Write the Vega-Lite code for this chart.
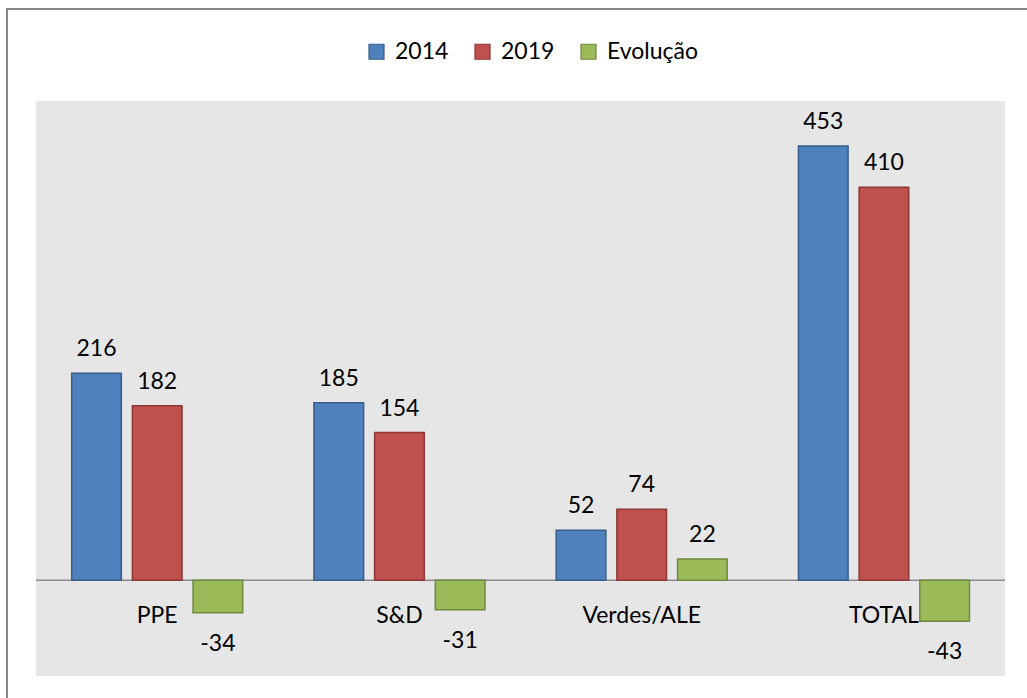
{
  "$schema": "https://vega.github.io/schema/vega-lite/v6.json",
  "width": 1023,
  "height": 692,
  "autosize": {"type": "none"},
  "padding": {"left": 7, "top": 9, "right": -3, "bottom": -3},
  "background": "white",
  "view": {"stroke": "#878787", "strokeWidth": 2, "fill": "white"},
  "config": {
    "view": {"stroke": "#878787", "strokeWidth": 2, "fill": "white"},
    "font": "Lato",
    "text": {"font": "Lato", "fontSize": 23, "color": "#000000"}
  },
  "datasets": {
    "bars": [
      {"grupo": "PPE", "serie": "2014", "valor": 216},
      {"grupo": "PPE", "serie": "2019", "valor": 182},
      {"grupo": "PPE", "serie": "Evolução", "valor": -34},
      {"grupo": "S&D", "serie": "2014", "valor": 185},
      {"grupo": "S&D", "serie": "2019", "valor": 154},
      {"grupo": "S&D", "serie": "Evolução", "valor": -31},
      {"grupo": "Verdes/ALE", "serie": "2014", "valor": 52},
      {"grupo": "Verdes/ALE", "serie": "2019", "valor": 74},
      {"grupo": "Verdes/ALE", "serie": "Evolução", "valor": 22},
      {"grupo": "TOTAL", "serie": "2014", "valor": 453},
      {"grupo": "TOTAL", "serie": "2019", "valor": 410},
      {"grupo": "TOTAL", "serie": "Evolução", "valor": -43}
    ],
    "cats": [
      {"grupo": "PPE"},
      {"grupo": "S&D"},
      {"grupo": "Verdes/ALE"},
      {"grupo": "TOTAL"}
    ],
    "frame": [{"inicio": "PPE", "fim": "TOTAL", "topo": 500, "base": -100}]
  },
  "layer": [
    {
      "data": {"name": "frame"},
      "mark": {"type": "rect", "fill": "#E6E6E6"},
      "encoding": {
        "x": {
          "field": "inicio", "type": "nominal", "bandPosition": -0.2088,
          "scale": {"domain": ["PPE", "S&D", "Verdes/ALE", "TOTAL"], "paddingInner": 0.2941, "paddingOuter": 0.2585, "align": 0.5166},
          "axis": null
        },
        "x2": {"field": "fim", "bandPosition": 1.2079},
        "y": {
          "field": "topo", "type": "quantitative",
          "scale": {"domain": [-126.09, 596.0], "nice": false},
          "axis": null
        },
        "y2": {"field": "base"}
      }
    },
    {
      "data": {"name": "frame"},
      "mark": {"type": "rule", "color": "#8A8A8A", "strokeWidth": 1.5},
      "encoding": {
        "x": {"field": "inicio", "type": "nominal", "bandPosition": -0.2088, "axis": null},
        "x2": {"field": "fim", "bandPosition": 1.2079},
        "y": {"datum": 0, "type": "quantitative", "axis": null}
      }
    },
    {
      "data": {"name": "bars"},
      "mark": {"type": "bar", "strokeWidth": 1.5},
      "encoding": {
        "x": {"field": "grupo", "type": "nominal", "sort": null, "axis": null},
        "xOffset": {"field": "serie", "type": "nominal", "sort": ["2014", "2019", "Evolução"], "scale": {"paddingInner": 0.182, "paddingOuter": 0}},
        "y": {"field": "valor", "type": "quantitative", "axis": null},
        "y2": {"datum": 0},
        "fill": {
          "field": "serie", "type": "nominal",
          "scale": {"domain": ["2014", "2019", "Evolução"], "range": ["#4F81BD", "#C0504D", "#9BBB59"]},
          "legend": {"orient": "none", "legendX": 358, "legendY": 31, "direction": "horizontal", "title": null, "symbolType": "square", "symbolSize": 225, "symbolStrokeWidth": 1.2, "labelFont": "Lato", "labelFontSize": 23, "labelColor": "#000000", "labelOffset": 7, "columnPadding": 22, "padding": 0}
        },
        "stroke": {
          "field": "serie", "type": "nominal",
          "scale": {"domain": ["2014", "2019", "Evolução"], "range": ["#385D8A", "#8C3836", "#71893F"]},
          "legend": {"orient": "none", "legendX": 358, "legendY": 31, "direction": "horizontal", "title": null, "symbolType": "square", "symbolSize": 225, "symbolStrokeWidth": 1.2, "labelFont": "Lato", "labelFontSize": 23, "labelColor": "#000000", "labelOffset": 7, "columnPadding": 22, "padding": 0}
        }
      }
    },
    {
      "data": {"name": "bars"},
      "transform": [{"filter": "datum.valor >= 0"}],
      "mark": {"type": "text", "baseline": "alphabetic", "dy": -17},
      "encoding": {
        "x": {"field": "grupo", "type": "nominal", "sort": null, "axis": null},
        "xOffset": {"field": "serie", "type": "nominal", "sort": ["2014", "2019", "Evolução"]},
        "y": {"field": "valor", "type": "quantitative", "axis": null},
        "text": {"field": "valor", "type": "nominal"}
      }
    },
    {
      "data": {"name": "bars"},
      "transform": [{"filter": "datum.valor < 0"}],
      "mark": {"type": "text", "baseline": "alphabetic", "dy": 38},
      "encoding": {
        "x": {"field": "grupo", "type": "nominal", "sort": null, "axis": null},
        "xOffset": {"field": "serie", "type": "nominal", "sort": ["2014", "2019", "Evolução"]},
        "y": {"field": "valor", "type": "quantitative", "axis": null},
        "text": {"field": "valor", "type": "nominal"}
      }
    },
    {
      "data": {"name": "cats"},
      "mark": {"type": "text", "baseline": "alphabetic", "dy": 43},
      "encoding": {
        "x": {"field": "grupo", "type": "nominal", "sort": null, "axis": null},
        "y": {"datum": 0, "type": "quantitative", "axis": null},
        "text": {"field": "grupo", "type": "nominal"}
      }
    }
  ]
}
